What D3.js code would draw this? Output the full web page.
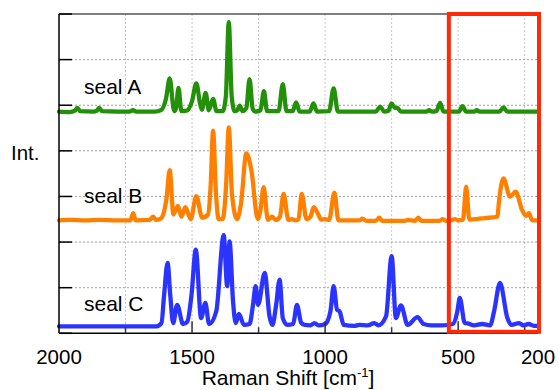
<!DOCTYPE html>
<html>
<head>
<meta charset="utf-8">
<script src="https://cdn.jsdelivr.net/npm/d3@7/dist/d3.min.js"></script>
<style>
  html, body { margin: 0; padding: 0; background: #fff; }
  svg { display: block; font-family: "Liberation Sans", Arial, sans-serif; }
</style>
</head>
<body>
<svg id="chart" width="559" height="390"></svg>
<script>
// ---- data ----
const seriesNames = ["seal A", "seal B", "seal C"];
const seriesColors = ["#23900a", "#ff8000", "#2b33ff"];
const seriesOffsets = [4.84, 2.455, 0.154];

const sealA_shift = [2000,1960,1940,1931,1920,1870,1858,1849,1838,1780,1735,1722,1710,1640,1615,1598,1584,1570,1566,1560,1551,1540,1520,1500,1484,1470,1463,1449,1437,1421,1408,1385,1373,1362,1351,1340,1330,1321,1310,1296,1284,1272,1262,1243,1230,1218,1175,1159,1145,1122,1109,1096,1058,1044,1030,985,968,952,810,793,778,762,750,738,728,715,620,609,598,582,568,555,497,484,470,440,430,420,345,330,315,200];
const sealA_int   = [0.02,0.01,0.04,0.10,0.03,0.02,0.04,0.10,0.03,0.02,0.02,0.05,0.02,0.02,0.06,0.30,0.75,0.10,0.03,0.10,0.54,0.03,0.04,0.25,0.64,0.20,0.06,0.43,0.05,0.30,0.03,0.03,0.35,1.98,0.35,0.03,0.05,0.15,0.03,0.10,0.73,0.08,0.02,0.05,0.47,0.03,0.03,0.62,0.03,0.03,0.22,0.02,0.02,0.20,0.02,0.03,0.53,0.02,0.02,0.13,0.02,0.04,0.20,0.10,0.10,0.02,0.02,0.05,0.02,0.03,0.21,0.02,0.02,0.14,0.02,0.02,0.05,0.02,0.02,0.11,0.02,0.02];

const sealB_shift = [2000,1960,1900,1850,1780,1732,1721,1712,1660,1646,1635,1620,1609,1596,1584,1570,1553,1540,1525,1505,1484,1462,1440,1430,1421,1410,1400,1385,1372,1362,1350,1331,1316,1296,1277,1253,1243,1231,1215,1200,1185,1170,1156,1138,1125,1112,1100,1088,1070,1055,1043,1028,1015,1000,985,965,950,870,859,845,810,796,785,700,690,662,650,638,570,559,545,525,512,500,482,470,458,430,400,353,346,330,305,284,260,245,234,222,200];
const sealB_int   = [0.02,0.03,0.02,0.03,0.02,0.02,0.18,0.02,0.03,0.10,0.03,0.05,0.14,0.50,1.12,0.15,0.34,0.10,0.31,0.05,0.55,0.08,0.15,0.80,1.99,0.60,0.05,0.05,0.80,2.06,0.60,0.05,0.39,1.49,1.12,0.05,0.25,0.75,0.03,0.10,0.03,0.10,0.60,0.03,0.05,0.02,0.04,0.60,0.05,0.10,0.31,0.18,0.04,0.05,0.03,0.63,0.02,0.02,0.06,0.01,0.01,0.08,0.01,0.01,0.03,0.01,0.08,0.01,0.01,0.05,0.01,0.02,0.05,0.02,0.03,0.76,0.04,0.05,0.07,0.10,0.47,0.94,0.54,0.65,0.25,0.12,0.18,0.02,0.02];

const sealC_shift = [2000,1800,1634,1615,1605,1592,1582,1571,1556,1534,1518,1502,1486,1466,1450,1436,1409,1381,1368,1359,1346,1336,1324,1305,1284,1271,1261,1252,1227,1209,1198,1184,1171,1159,1142,1120,1106,1090,1077,1055,1040,1025,1000,980,968,955,946,930,890,871,840,815,800,771,750,734,715,690,653,630,600,560,520,503,494,475,470,440,410,380,365,343,315,300,271,255,236,215,200];
const sealC_int   = [0.00,0.00,0.00,0.07,0.69,1.39,0.69,0.07,0.47,0.05,0.10,0.69,1.68,0.18,0.51,0.05,0.33,2.00,0.88,1.86,0.55,0.07,0.27,0.03,0.05,0.47,0.88,0.47,1.17,0.22,0.03,0.47,1.02,0.18,0.03,0.05,0.47,0.08,0.03,0.02,0.07,0.02,0.05,0.33,0.88,0.36,0.33,0.03,0.01,0.03,0.02,0.07,0.02,0.22,1.54,0.18,0.46,0.03,0.20,0.05,0.02,0.02,0.05,0.33,0.62,0.07,0.07,0.02,0.05,0.02,0.33,0.95,0.18,0.03,0.07,0.02,0.05,0.01,0.01];

const xTickValues = [2000, 1500, 1000, 500, 200];
const xGridValues = [1750, 1500, 1250, 1000, 750, 500, 250];
const yTickValues = [0, 1, 2, 3, 4, 5, 6, 7];
const highlightRange = [535, 200];

// ---- layout ----
(function () {
const svg = d3.select("#chart");
const pL = 59, pR = 538, pT = 14, pB = 333.3;
const x = d3.scaleLinear().domain([2000, 200]).range([pL, pR]);
const y = d3.scaleLinear().domain([0, 7]).range([pB, pT]);

// grid
svg.append("g").selectAll("line").data(xGridValues).join("line")
  .attr("x1", d => x(d)).attr("x2", d => x(d))
  .attr("y1", pT).attr("y2", pB)
  .attr("stroke", "#c8c8c8").attr("stroke-width", 1).attr("stroke-dasharray", "2,2");
svg.append("g").selectAll("line").data(yTickValues.slice(1, -1)).join("line")
  .attr("x1", pL).attr("x2", pR)
  .attr("y1", d => y(d)).attr("y2", d => y(d))
  .attr("stroke", "#a0a0a0").attr("stroke-width", 1).attr("stroke-dasharray", "2,2");

// top frame
svg.append("line").attr("x1", pL).attr("x2", pR).attr("y1", pT).attr("y2", pT)
  .attr("stroke", "#555").attr("stroke-width", 1.5);

// spectra
const shifts = [sealA_shift, sealB_shift, sealC_shift];
const ints = [sealA_int, sealB_int, sealC_int];
const line = d3.line().x(d => x(d[0])).y(d => y(d[1])).curve(d3.curveMonotoneX);
shifts.forEach((sh, i) => {
  const n = Math.min(sh.length, ints[i].length);
  const pts = sh.slice(0, n).map((w, k) => [w, ints[i][k] + seriesOffsets[i]]);
  svg.append("path").datum(pts)
    .attr("d", line)
    .attr("fill", "none")
    .attr("stroke", seriesColors[i])
    .attr("stroke-width", 4.3)
    .attr("stroke-linejoin", "round")
    .attr("stroke-linecap", "round");
});

// left axis
svg.append("line").attr("x1", pL).attr("x2", pL).attr("y1", pT).attr("y2", pB)
  .attr("stroke", "#000").attr("stroke-width", 1.5);
svg.append("g").selectAll("line").data(yTickValues).join("line")
  .attr("x1", pL).attr("x2", pL + 13)
  .attr("y1", d => y(d)).attr("y2", d => y(d))
  .attr("stroke", "#000").attr("stroke-width", 1.5);

// bottom axis
svg.append("line").attr("x1", pL).attr("x2", pR).attr("y1", pB).attr("y2", pB)
  .attr("stroke", "#000").attr("stroke-width", 1.5);
svg.append("g").selectAll("line").data(xGridValues).join("line")
  .attr("x1", d => x(d)).attr("x2", d => x(d))
  .attr("y1", pB).attr("y2", d => pB - (d % 500 === 0 ? 12 : 6))
  .attr("stroke", "#333").attr("stroke-width", 1.5);
svg.append("g").selectAll("text").data(xTickValues).join("text")
  .attr("x", d => x(d)).attr("y", 364)
  .attr("text-anchor", "middle")
  .attr("font-size", 20.5).attr("fill", "#000")
  .text(d => d);

// highlight rectangle
svg.append("rect")
  .attr("x", x(highlightRange[0])).attr("y", pT)
  .attr("width", x(highlightRange[1]) - x(highlightRange[0]) + 1)
  .attr("height", pB - pT - 1.5)
  .attr("fill", "none").attr("stroke", "#ff2a0a").attr("stroke-width", 4);

// series labels
const labelY = [94, 202.5, 310.5];
seriesNames.forEach((n, i) => {
  svg.append("text").attr("x", 84).attr("y", labelY[i])
    .attr("font-size", 21).attr("fill", "#000").text(n);
});

// axis titles
svg.append("text").attr("x", 11).attr("y", 160).attr("font-size", 20.5).attr("fill", "#000").text("Int.");
const xt = svg.append("text").attr("x", 288).attr("y", 385).attr("text-anchor", "middle")
  .attr("font-size", 21).attr("fill", "#000");
xt.append("tspan").text("Raman Shift [cm");
xt.append("tspan").attr("dy", -8).attr("font-size", 13).text("-1");
xt.append("tspan").attr("dy", 8).text("]");
})();
</script>
</body>
</html>
